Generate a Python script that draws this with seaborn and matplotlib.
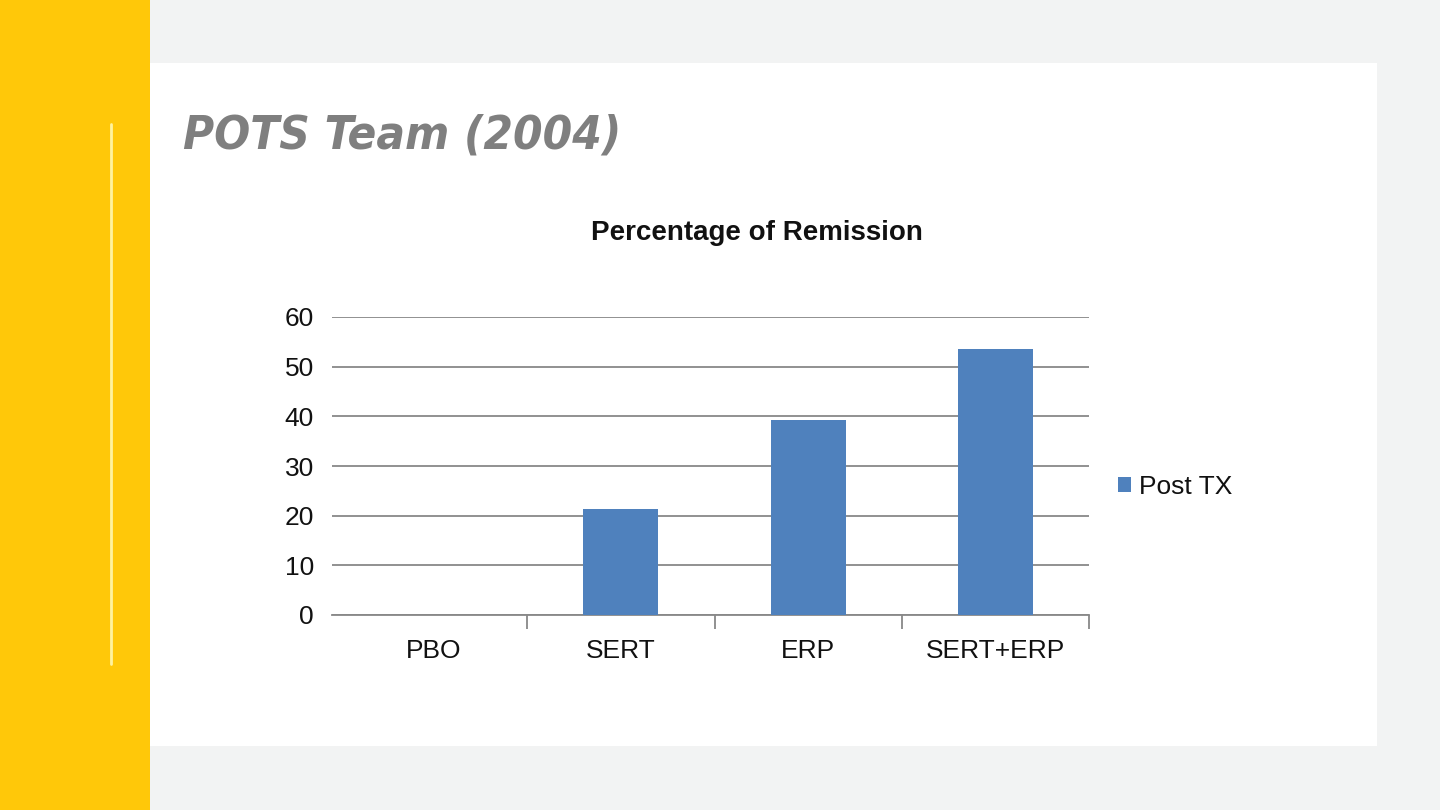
import seaborn as sns
import pandas as pd
from matplotlib import pyplot as plt
from matplotlib.patches import Rectangle
from matplotlib.lines import Line2D

categories = ["PBO", "SERT", "ERP", "SERT+ERP"]
remission = [0, 21.3, 39.3, 53.6]
series_name = "Post TX"
y_ticks = [0, 10, 20, 30, 40, 50, 60]

data = pd.DataFrame({"group": categories, "pct": remission, "series": series_name})

sns.set_theme(style="white")
plt.rcParams["font.family"] = ["Liberation Sans", "DejaVu Sans"]
plt.rcParams["text.color"] = "#111111"

fig = plt.figure(figsize=(14.4, 8.1), dpi=100)
fig.patch.set_facecolor("#F2F3F3")

# slide decoration, kept behind the chart
fig.patches.append(Rectangle((0, 0), 150 / 1440, 1, transform=fig.transFigure,
                             facecolor="#FFC809", edgecolor="none", zorder=-5))
fig.patches.append(Rectangle((150 / 1440, 1 - 746 / 810), 1227 / 1440, 683 / 810,
                             transform=fig.transFigure, facecolor="white",
                             edgecolor="none", zorder=-5))
fig.lines.append(Line2D([111 / 1440, 111 / 1440], [1 - 124 / 810, 1 - 664 / 810],
                        transform=fig.transFigure, color="#FFF3A0", lw=2, zorder=-4))

fig.text(183 / 1440, 1 - 136 / 810, "POTS Team (2004)", family="DejaVu Sans",
         stretch="condensed", fontsize=34, fontweight="bold", style="italic",
         color="#7F7F7F", va="center", ha="left")

ax = fig.add_axes([332 / 1440, 1 - 615 / 810, 757 / 1440, 298 / 810])
ax.set_facecolor("white")
sns.barplot(data=data, x="group", y="pct", hue="series", palette=["#4F81BD"],
            saturation=1, width=0.4, dodge=False, linewidth=0, ax=ax, zorder=3)

ax.set_xlim(-0.543, 3.5)
ax.set_ylim(0, 60)
ax.set_yticks(y_ticks)
ax.yaxis.grid(True, color="#888888", lw=1.3)
ax.set_axisbelow(True)
for side in ["top", "right", "left"]:
    ax.spines[side].set_visible(False)
ax.spines["bottom"].set_color("#888888")
ax.spines["bottom"].set_linewidth(1.3)
ax.set_xlabel("")
ax.set_ylabel("")
ax.tick_params(axis="y", length=0, pad=13, labelsize=19, labelcolor="#111111")
ax.tick_params(axis="x", which="major", length=0, pad=17, labelsize=19,
               labelcolor="#111111")
ax.set_xticks([0.5, 1.5, 2.5, 3.5], minor=True)
ax.tick_params(axis="x", which="minor", length=10, color="#888888", width=1.3,
               bottom=True, direction="out")

fig.text(757 / 1440, 1 - 233 / 810, "Percentage of Remission", fontsize=20,
         fontweight="bold", color="#111111", ha="center", va="center")

ax.legend(loc="center left", bbox_to_anchor=(1.038, 0.43), frameon=False,
          fontsize=19, borderaxespad=0, borderpad=0,
          handlelength=0.5, handleheight=0.5, handletextpad=0.3)

plt.savefig("out.png", dpi=100, facecolor=fig.get_facecolor())
